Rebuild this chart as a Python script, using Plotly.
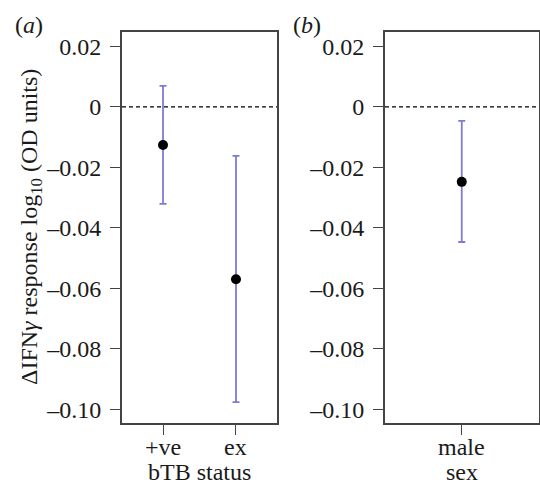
import plotly.graph_objects as go

# Data
status_cats = ["+ve", "ex"]
status_est = [-0.0126, -0.0570]
status_upper = [0.0070, -0.0162]
status_lower = [-0.0321, -0.0977]

sex_cats = ["male"]
sex_est = [-0.0248]
sex_upper = [-0.0046]
sex_lower = [-0.0447]

y_ticks = [0.02, 0, -0.02, -0.04, -0.06, -0.08, -0.10]
y_tick_text = ["0.02", "0", "\u20130.02", "\u20130.04", "\u20130.06", "\u20130.08", "\u20130.10"]

W, H = 540, 485
FONT = "Liberation Serif"
FS = 24
TXT = "#1a1a1a"
ERR_COL = "#7d7bd3"
AX_COL = "#444444"

fig = go.Figure()

def add_panel(cats, est, up, lo, xa, ya):
    fig.add_trace(go.Scatter(
        x=cats, y=est, mode="markers",
        marker=dict(color="black", size=10),
        error_y=dict(type="data", symmetric=False,
                     array=[u - e for u, e in zip(up, est)],
                     arrayminus=[e - l for e, l in zip(est, lo)],
                     color=ERR_COL, thickness=1.8, width=3.5),
        xaxis=xa, yaxis=ya, showlegend=False, hoverinfo="skip"))

add_panel(status_cats, status_est, status_upper, status_lower, "x", "y")
add_panel(sex_cats, sex_est, sex_upper, sex_lower, "x2", "y2")

ydom = [1 - 423 / H, 1 - 32 / H]
yr = [-0.1046, 0.0248]

common_y = dict(range=yr, tickvals=y_ticks, ticktext=y_tick_text, ticks="outside",
                ticklen=10, tickwidth=1.2, tickcolor=AX_COL, showline=True,
                linecolor=AX_COL, linewidth=1.8, mirror=True, showgrid=False,
                zeroline=False, tickfont=dict(family=FONT, size=FS, color=TXT),
                ticklabelstandoff=4, domain=ydom)
common_x = dict(type="category", ticks="outside", ticklen=10, tickwidth=1.2,
                tickcolor=AX_COL, showline=True, linecolor=AX_COL, linewidth=1.8,
                mirror=True, showgrid=False, zeroline=False, showticklabels=False)

def label(text, xref, x, ypx, xanchor="center"):
    return dict(text=text, xref=xref, yref="paper", x=x, y=1 - ypx / H,
                showarrow=False, font=dict(family=FONT, size=FS, color=TXT),
                xanchor=xanchor, yanchor="middle")

annotations = [
    dict(text="\u0394IFN<i>\u03b3</i> response log<sub>10</sub> (OD units)", xref="paper",
         yref="paper", x=31 / W, y=1 - 227 / H, textangle=-90, showarrow=False,
         font=dict(family=FONT, size=FS, color=TXT), xanchor="center",
         yanchor="middle"),
    label("bTB status", "paper", 199 / W, 472),
    label("sex", "paper", 462 / W, 472),
    label("(<i>a</i>)", "paper", 13 / W, 25, "left"),
    label("(<i>b</i>)", "paper", 291 / W, 25, "left"),
]
for c in status_cats:
    annotations.append(label(c, "x", c, 447))
for c in sex_cats:
    annotations.append(label(c, "x2", c, 447))

fig.update_layout(
    width=W, height=H, margin=dict(l=0, r=0, t=0, b=0),
    paper_bgcolor="white", plot_bgcolor="white",
    xaxis=dict(common_x, domain=[122 / W, 277 / W], range=[-0.562, 1.562],
               anchor="y"),
    yaxis=dict(common_y, anchor="x"),
    xaxis2=dict(common_x, domain=[385 / W, 538.5 / W], range=[-0.5, 0.5],
                anchor="y2"),
    yaxis2=dict(common_y, anchor="x2"),
    shapes=[
        dict(type="line", xref="x domain", yref="y", x0=0, x1=1, y0=0, y1=0,
             line=dict(color="black", width=1.2, dash="4px,3px")),
        dict(type="line", xref="x2 domain", yref="y2", x0=0, x1=1, y0=0, y1=0,
             line=dict(color="black", width=1.2, dash="4px,3px")),
    ],
    annotations=annotations,
)

fig.write_html("out.html", config={"displayModeBar": False},
               post_script="document.body.style.margin='0';document.body.style.overflow='hidden';")
